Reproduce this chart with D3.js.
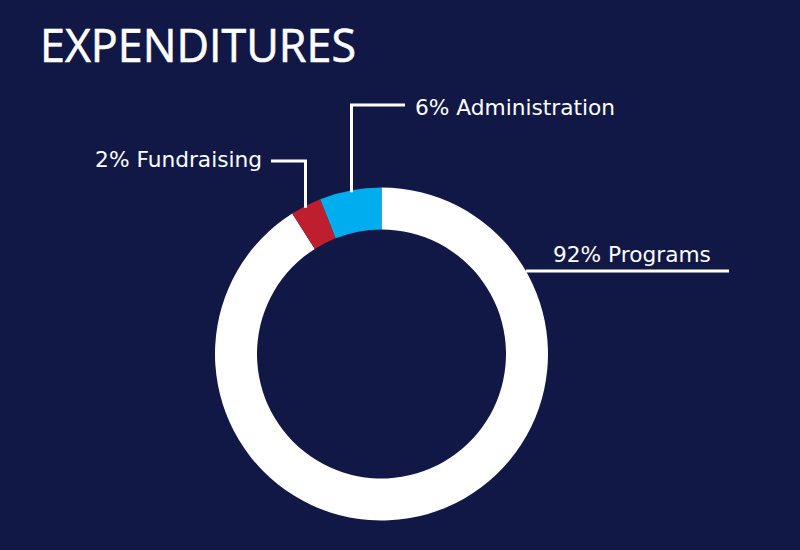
<!DOCTYPE html>
<html>
<head>
<meta charset="utf-8">
<script src="https://cdn.jsdelivr.net/npm/d3@7"></script>
<style>
  html, body { margin: 0; padding: 0; background: #121846; }
  svg { display: block; }
</style>
</head>
<body>
<svg id="chart" width="800" height="550"></svg>
<script>
// Data
const categories = ["Programs", "Fundraising", "Administration"];
const values = [91, 3, 6];            // slice sizes as drawn
const percentLabels = ["92%", "2%", "6%"]; // label text as printed
const colors = ["#ffffff", "#be1e2d", "#00aeef"];
const title = "EXPENDITURES";

const W = 800, H = 550;
const cx = 381.5, cy = 354;
const rOuter = 166.5, rInner = 124.5;

const svg = d3.select("#chart");
svg.append("rect").attr("width", W).attr("height", H).attr("fill", "#121846");

svg.append("text")
  .attr("x", 40).attr("y", 62)
  .attr("fill", "#ffffff")
  .attr("font-family", "'Open Sans', sans-serif")
  .attr("font-size", 45)
  .attr("textLength", 316)
  .attr("lengthAdjust", "spacingAndGlyphs")
  .attr("stroke", "#ffffff")
  .attr("stroke-width", 0.6)
  .text(title);

const pie = d3.pie().sort(null).value(d => d)(values);
const arc = d3.arc().innerRadius(rInner).outerRadius(rOuter);

const g = svg.append("g").attr("transform", `translate(${cx},${cy})`);
g.selectAll("path").data(pie).join("path")
  .attr("d", arc)
  .attr("fill", (d, i) => colors[i]);

// Leader lines: anchor point found on outer edge of the ring
const onRingX = dx => -Math.sqrt(rOuter * rOuter - dx * dx); // y offset for given x offset (top half)
const onRingY = dy => Math.sqrt(rOuter * rOuter - dy * dy);  // x offset for given y offset (right side)

const leaders = [
  { i: 0, pts: [[cx + onRingY(271 - cy), 271], [729, 271]], tx: 553, ty: 262, anchor: "start" },
  { i: 1, pts: [[305.5, cy + onRingX(305.5 - cx) + 2], [305.5, 161], [271, 161]], tx: 262, ty: 167, anchor: "end" },
  { i: 2, pts: [[351.5, cy + onRingX(351.5 - cx) + 2], [351.5, 105], [405, 105]], tx: 415, ty: 115, anchor: "start" }
];

const line = d3.line();
svg.selectAll("path.leader").data(leaders).join("path")
  .attr("class", "leader")
  .attr("d", d => line(d.pts))
  .attr("fill", "none")
  .attr("stroke", "#ffffff")
  .attr("stroke-width", 3);

svg.selectAll("text.lbl").data(leaders).join("text")
  .attr("class", "lbl")
  .attr("x", d => d.tx).attr("y", d => d.ty)
  .attr("text-anchor", d => d.anchor)
  .attr("fill", "#ffffff")
  .attr("font-family", "'DejaVu Sans', sans-serif")
  .attr("font-size", 21.7)
  .text(d => `${percentLabels[d.i]} ${categories[d.i]}`);
</script>
</body>
</html>
